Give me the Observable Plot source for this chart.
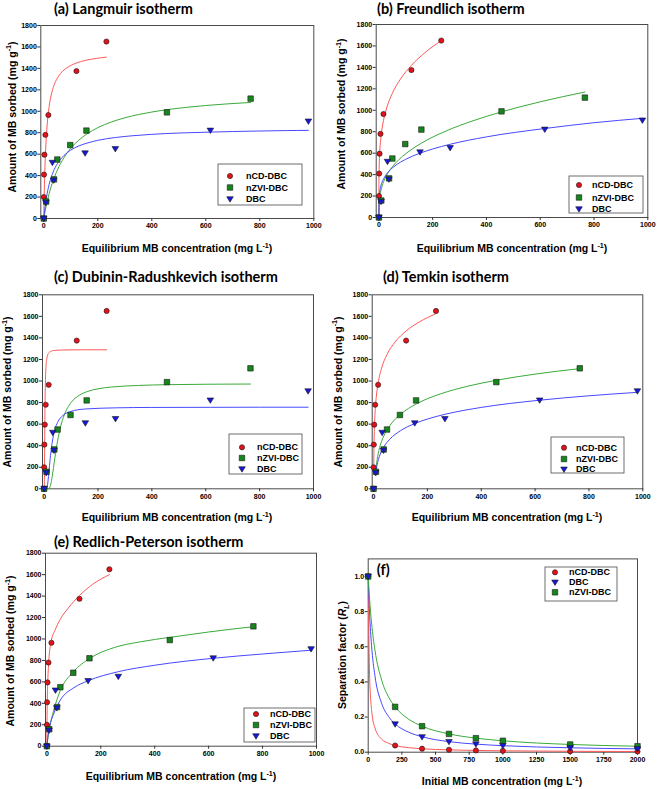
<!DOCTYPE html>
<html><head><meta charset="utf-8">
<script src="https://cdn.jsdelivr.net/npm/d3@7"></script>
<script src="https://cdn.jsdelivr.net/npm/@observablehq/plot@0.6"></script>
<style>
html,body{margin:0;padding:0;background:#fff;}
#root{position:relative;width:668px;height:789px;overflow:hidden;background:#fff;}
.panel{position:absolute;}
.panel svg{overflow:visible;}
</style></head><body><div id="root"></div>
<script>
// ---------- Experimental points (Ce, qe) ----------
const ceCD  = [0, 0.4, 1, 2.5, 6, 17, 121, 232];
const qeCD  = [0, 200, 410, 595, 780, 965, 1375, 1650];
const ceZVI = [0, 9, 38, 50, 98, 158, 456, 766];
const qeZVI = [0, 158, 365, 550, 685, 820, 990, 1118];
const ceDBC = [0, 8, 32, 37, 153, 265, 617, 980];
const qeDBC = [0, 148, 522, 357, 610, 650, 822, 907];

// ---------- Separation factor points ----------
const c0    = [0, 200, 400, 600, 800, 1000, 1500, 2000];
const rlCD  = [1, 0.038, 0.020, 0.014, 0.010, 0.008, 0.005, 0.004];
const rlDBC = [1, 0.160, 0.087, 0.060, 0.046, 0.037, 0.025, 0.019];
const rlZVI = [1, 0.258, 0.148, 0.104, 0.080, 0.065, 0.044, 0.034];

// ---------- Fitted curves ----------
// (a) Langmuir
const langX_CD  = [0, 0.5, 1, 2, 3, 5, 7, 10, 15, 20, 30, 40, 55, 70, 90, 110, 135, 160, 195, 232];
const langY_CD  = [0, 75, 143, 262, 362, 523, 647, 785, 942, 1047, 1178, 1256, 1328, 1374, 1413, 1439, 1462, 1478, 1493, 1505];
const langX_ZVI = [0, 5, 10, 20, 35, 50, 75, 100, 130, 160, 200, 250, 300, 350, 400, 456, 530, 600, 680, 766];
const langY_ZVI = [0, 68, 129, 232, 355, 450, 568, 655, 731, 789, 847, 900, 939, 969, 993, 1015, 1037, 1054, 1069, 1082];
const langX_DBC = [0, 5, 10, 20, 35, 50, 75, 100, 130, 160, 200, 265, 330, 400, 500, 617, 700, 800, 900, 980];
const langY_DBC = [0, 111, 196, 319, 435, 510, 588, 638, 677, 703, 729, 755, 772, 785, 797, 806, 811, 816, 820, 822];
// (b) Freundlich
const frX_CD  = [0, 0.1, 0.3, 0.6, 1, 2, 4, 7, 12, 17, 30, 50, 80, 121, 170, 232];
const frY_CD  = [0, 277, 357, 419, 471, 552, 648, 737, 834, 904, 1030, 1158, 1290, 1419, 1535, 1650];
const frX_ZVI = [0, 1, 3, 6, 10, 20, 35, 50, 75, 100, 160, 250, 350, 456, 600, 766];
const frY_ZVI = [0, 129, 186, 234, 277, 349, 420, 473, 541, 595, 696, 807, 902, 985, 1079, 1170];
const frX_DBC = [0, 1, 3, 6, 10, 20, 37, 60, 100, 153, 200, 265, 400, 617, 800, 980];
const frY_DBC = [0, 185, 239, 281, 317, 373, 431, 482, 543, 600, 639, 683, 752, 830, 884, 925];
// (c) Dubinin-Radushkevich
const drX_CD  = [0, 0.5, 1, 1.5, 2, 3, 4, 5, 7, 10, 14, 20, 35, 60, 100, 160, 232];
const drY_CD  = [0, 0, 41, 197, 396, 711, 901, 1016, 1135, 1208, 1247, 1268, 1283, 1287, 1289, 1290, 1290];
const drX_ZVI = [9, 15, 20, 25, 30, 35, 40, 50, 60, 75, 100, 130, 160, 200, 250, 350, 456, 600, 766];
const drY_ZVI = [0, 0, 8, 45, 114, 199, 288, 445, 565, 687, 800, 867, 902, 928, 944, 959, 966, 970, 972];
const drX_DBC = [5, 8, 10, 12, 15, 20, 25, 30, 40, 50, 70, 100, 150, 265, 400, 617, 800, 980];
const drY_DBC = [0, 0, 6, 26, 85, 216, 337, 430, 549, 616, 681, 718, 740, 751, 755, 756, 757, 757];
// (d) Temkin
const tkX_CD  = [0.8, 1, 2, 3, 5, 7, 10, 17, 30, 50, 80, 121, 170, 232];
const tkY_CD  = [226, 281, 452, 552, 678, 761, 849, 980, 1120, 1246, 1362, 1464, 1548, 1625];
const tkX_ZVI = [9, 15, 20, 30, 38, 50, 70, 97, 130, 160, 200, 250, 350, 456, 600, 766];
const tkY_ZVI = [190, 297, 357, 441, 490, 547, 617, 685, 746, 789, 836, 882, 952, 1007, 1064, 1115];
const tkX_DBC = [8, 12, 18, 25, 37, 60, 100, 153, 200, 265, 400, 617, 800, 980];
const tkY_DBC = [145, 208, 271, 322, 384, 459, 539, 605, 647, 691, 755, 822, 863, 895];
// (e) Redlich-Peterson
const rpX_CD  = [0, 0.3, 0.6, 1, 2, 3, 5, 7, 10, 17, 30, 50, 80, 121, 170, 232];
const rpY_CD  = [0, 150, 240, 330, 480, 570, 700, 790, 880, 990, 1080, 1185, 1290, 1405, 1510, 1600];
const rpX_ZVI = [0, 5, 10, 25, 50, 97, 160, 250, 350, 456, 600, 766];
const rpY_ZVI = [0, 95, 170, 330, 520, 690, 820, 920, 975, 1015, 1065, 1115];
const rpX_DBC = [0, 5, 10, 25, 50, 100, 153, 265, 400, 617, 800, 980];
const rpY_DBC = [0, 110, 180, 300, 430, 545, 610, 695, 755, 820, 860, 895];
// (f) separation factor curves
const sfX     = [0, 10, 25, 50, 100, 150, 200, 300, 400, 600, 800, 1000, 1500, 2000];
const sfY_CD  = [1, 0.444, 0.242, 0.138, 0.074, 0.051, 0.038, 0.026, 0.0196, 0.0132, 0.0099, 0.0079, 0.0053, 0.004];
const sfY_DBC = [1, 0.794, 0.606, 0.435, 0.278, 0.204, 0.161, 0.114, 0.088, 0.060, 0.046, 0.037, 0.025, 0.019];
const sfY_ZVI = [1, 0.874, 0.735, 0.581, 0.410, 0.316, 0.258, 0.188, 0.148, 0.104, 0.080, 0.065, 0.044, 0.034];

// ---------- Tick labels ----------
const qTicks  = [0, 200, 400, 600, 800, 1000, 1200, 1400, 1600, 1800];
const ceTicks = [0, 200, 400, 600, 800, 1000];
const c0Ticks = [0, 250, 500, 750, 1000, 1250, 1500, 1750, 2000];
const rlTicks = [0, 0.2, 0.4, 0.6, 0.8, 1.0];

// ---------- Style ----------
const triangleDown = {
  draw(ctx, size) {
    const r = Math.sqrt(size / Math.PI);
    const w = r * 1.1;
    ctx.moveTo(-w, -r * 0.75);
    ctx.lineTo(w, -r * 0.75);
    ctx.lineTo(0, r * 1.05);
    ctx.closePath();
  }
};
const STY = {
  "nCD-DBC":  {fill: "#e3121a", line: "#ff5858", symbol: d3.symbolCircle, r: 2.6},
  "nZVI-DBC": {fill: "#15861b", line: "#3aaa3a", symbol: d3.symbolSquare, r: 3.1},
  "DBC":      {fill: "#1616dd", line: "#4848ff", symbol: triangleDown,    r: 3.0}
};
const SANS = "'Liberation Sans', Arial, sans-serif";
const TITLEF = "Lato, 'Open Sans', sans-serif";

const pointsIso = [
  {name: "nCD-DBC", x: ceCD, y: qeCD},
  {name: "nZVI-DBC", x: ceZVI, y: qeZVI},
  {name: "DBC", x: ceDBC, y: qeDBC}
];

function label(s, x, y, rot, parts, size) {
  const t = s.append("text")
    .attr("transform", `translate(${x},${y}) rotate(${rot})`)
    .attr("text-anchor", "middle")
    .attr("font-family", SANS).attr("font-weight", "bold")
    .attr("font-size", size).attr("fill", "#000");
  let shift = 0;
  for (const p of parts) {
    const ts = t.append("tspan").text(p.t);
    if (p.sup) { ts.attr("font-size", size * 0.68).attr("dy", -size * 0.42 - shift); shift = -size * 0.42; }
    else if (p.sub) { ts.attr("font-size", size * 0.68).attr("dy", size * 0.25 - shift); shift = size * 0.25; }
    else { if (shift) ts.attr("dy", -shift); shift = 0; }
    if (p.it) ts.attr("font-style", "italic");
  }
}

function drawPanel(p) {
  const [L, R, T, B] = p.frame;
  const marks = [
    Plot.frame({stroke: "#4a4a4a", strokeWidth: 1}),
    Plot.axisX(p.xTicks, {tickSize: 3, tickPadding: 2, stroke: "#333", label: null, tickFormat: p.xFormat || (d => String(d))}),
    Plot.axisY(p.yTicks, {tickSize: 3, tickPadding: 1, stroke: "#333", label: null, tickFormat: p.yFormat || (d => String(d))})
  ];
  for (const f of p.fits) {
    marks.push(Plot.line(f.x, {x: f.x, y: f.y, stroke: STY[f.name].line, strokeWidth: 1, curve: "monotone-x"}));
  }
  for (const s of p.points) {
    const st = STY[s.name];
    marks.push(Plot.dot(s.x, {x: s.x, y: s.y, symbol: st.symbol, r: st.r, fill: st.fill, stroke: "#1a1a1a", strokeWidth: 0.6}));
  }
  const svg = Plot.plot({
    width: p.width, height: p.height,
    marginLeft: L, marginRight: p.width - R, marginTop: T, marginBottom: p.height - B,
    x: {domain: p.xDomain}, y: {domain: p.yDomain},
    style: {fontFamily: SANS, fontSize: "7px", fontWeight: "bold", color: "#000", background: "transparent", overflow: "visible"},
    marks
  });
  const div = document.createElement("div");
  div.className = "panel";
  div.style.left = p.left + "px"; div.style.top = p.top + "px";
  div.appendChild(svg);
  document.getElementById("root").appendChild(div);
  const s = d3.select(svg);
  // title
  s.append("text").attr("x", p.title.x).attr("y", p.title.y)
    .attr("text-anchor", "start")
    .attr("font-family", TITLEF).attr("font-weight", "bold").attr("font-size", 14.5)
    .attr("fill", "#000").text(p.title.t);
  // axis labels
  label(s, p.xLab.x, p.xLab.y, 0, p.xLab.parts, 10.5);
  label(s, p.yLab.x, p.yLab.y, -90, p.yLab.parts, 10.5);
  // legend
  const lg = p.legend;
  s.append("rect").attr("x", lg.box[0]).attr("y", lg.box[1])
    .attr("width", lg.box[2] - lg.box[0]).attr("height", lg.box[3] - lg.box[1])
    .attr("fill", "#fff").attr("stroke", "#4a4a4a").attr("stroke-width", 0.8);
  lg.names.forEach((n, i) => {
    const st = STY[n];
    const yy = lg.rows[i];
    s.append("path").attr("d", d3.symbol(st.symbol, st.r * st.r * Math.PI)())
      .attr("transform", `translate(${lg.mx},${yy})`)
      .attr("fill", st.fill).attr("stroke", "#1a1a1a").attr("stroke-width", 0.6);
    s.append("text").attr("x", lg.tx).attr("y", yy).attr("dy", "0.35em")
      .attr("text-anchor", "start")
      .attr("font-family", SANS).attr("font-weight", "bold").attr("font-size", 9)
      .attr("fill", "#000").text(n);
  });
}

const xLabParts = [{t: "Equilibrium MB concentration (mg L"}, {t: "-1", sup: true}, {t: ")"}];
const yLabParts = [{t: "Amount of MB sorbed (mg g"}, {t: "-1", sup: true}, {t: ")"}];
const isoNames = ["nCD-DBC", "nZVI-DBC", "DBC"];

drawPanel({
  left: 0, top: 0, width: 334, height: 260, frame: [40.3, 313.3, 25, 218],
  xDomain: [-11, 1000], yDomain: [0, 1800], xTicks: ceTicks, yTicks: qTicks,
  fits: [
    {name: "nCD-DBC", x: langX_CD, y: langY_CD},
    {name: "nZVI-DBC", x: langX_ZVI, y: langY_ZVI},
    {name: "DBC", x: langX_DBC, y: langY_DBC}
  ],
  points: pointsIso,
  title: {t: "(a) Langmuir isotherm", x: 54, y: 14},
  xLab: {x: 177, y: 252, parts: xLabParts},
  yLab: {x: 15.5, y: 117, parts: yLabParts},
  legend: {box: [218, 164, 302, 205], mx: 230, tx: 246, rows: [176, 187.5, 199], names: isoNames}
});

drawPanel({
  left: 334, top: 0, width: 334, height: 260, frame: [41.7, 313.3, 24, 217],
  xDomain: [-10, 1000], yDomain: [0, 1800], xTicks: ceTicks, yTicks: qTicks,
  fits: [
    {name: "nCD-DBC", x: frX_CD, y: frY_CD},
    {name: "nZVI-DBC", x: frX_ZVI, y: frY_ZVI},
    {name: "DBC", x: frX_DBC, y: frY_DBC}
  ],
  points: pointsIso,
  title: {t: "(b) Freundlich isotherm", x: 43, y: 13.5},
  xLab: {x: 178, y: 252, parts: xLabParts},
  yLab: {x: 11, y: 114, parts: yLabParts},
  legend: {box: [235, 176, 309, 213], mx: 245, tx: 258, rows: [185, 197.5, 209], names: isoNames}
});

drawPanel({
  left: 0, top: 260, width: 334, height: 268, frame: [42, 313, 34.3, 228.3],
  xDomain: [-6, 1000], yDomain: [0, 1800], xTicks: ceTicks, yTicks: qTicks,
  fits: [
    {name: "nCD-DBC", x: drX_CD, y: drY_CD},
    {name: "nZVI-DBC", x: drX_ZVI, y: drY_ZVI},
    {name: "DBC", x: drX_DBC, y: drY_DBC}
  ],
  points: pointsIso,
  title: {t: "(c) Dubinin-Radushkevich isotherm", x: 54, y: 22},
  xLab: {x: 177, y: 261, parts: xLabParts},
  yLab: {x: 11, y: 132, parts: yLabParts},
  legend: {box: [229, 174, 302, 214], mx: 242, tx: 257, rows: [187.3, 198, 209], names: isoNames}
});

drawPanel({
  left: 334, top: 260, width: 334, height: 268, frame: [37.7, 308.3, 34.3, 228.3],
  xDomain: [-5, 1000], yDomain: [0, 1800], xTicks: ceTicks, yTicks: qTicks,
  fits: [
    {name: "nCD-DBC", x: tkX_CD, y: tkY_CD},
    {name: "nZVI-DBC", x: tkX_ZVI, y: tkY_ZVI},
    {name: "DBC", x: tkX_DBC, y: tkY_DBC}
  ],
  points: pointsIso,
  title: {t: "(d) Temkin isotherm", x: 49, y: 22},
  xLab: {x: 173, y: 261, parts: xLabParts},
  yLab: {x: 7.5, y: 132, parts: yLabParts},
  legend: {box: [217, 177, 290, 213], mx: 230, tx: 242, rows: [187.7, 199, 209.3], names: isoNames}
});

drawPanel({
  left: 0, top: 520, width: 334, height: 269, frame: [45, 316, 32.7, 225.7],
  xDomain: [-5, 1000], yDomain: [0, 1800], xTicks: ceTicks, yTicks: qTicks,
  fits: [
    {name: "nCD-DBC", x: rpX_CD, y: rpY_CD},
    {name: "nZVI-DBC", x: rpX_ZVI, y: rpY_ZVI},
    {name: "DBC", x: rpX_DBC, y: rpY_DBC}
  ],
  points: pointsIso,
  title: {t: "(e) Redlich-Peterson isotherm", x: 54, y: 26.5},
  xLab: {x: 181, y: 260, parts: xLabParts},
  yLab: {x: 14, y: 131, parts: yLabParts},
  legend: {box: [244, 188, 315, 222], mx: 256, tx: 270, rows: [194, 205, 216], names: isoNames}
});

drawPanel({
  left: 334, top: 520, width: 334, height: 269, frame: [33.7, 303, 38.4, 231.7],
  xDomain: [0, 2000], yDomain: [0, 1.1], xTicks: c0Ticks, yTicks: rlTicks,
  yFormat: d3.format(".1f"),
  fits: [
    {name: "nCD-DBC", x: sfX, y: sfY_CD},
    {name: "DBC", x: sfX, y: sfY_DBC},
    {name: "nZVI-DBC", x: sfX, y: sfY_ZVI}
  ],
  points: [
    {name: "nCD-DBC", x: c0, y: rlCD},
    {name: "nZVI-DBC", x: c0, y: rlZVI},
    {name: "DBC", x: c0, y: rlDBC}
  ],
  title: {t: "(f)", x: 42.7, y: 55},
  xLab: {x: 168, y: 265, parts: [{t: "Initial MB concentration (mg L"}, {t: "-1", sup: true}, {t: ")"}]},
  yLab: {x: 12, y: 135, parts: [{t: "Separation factor ("}, {t: "R", it: true}, {t: "L", sub: true, it: true}, {t: ")"}]},
  legend: {box: [211, 47, 283, 81], mx: 221, tx: 235, rows: [52.3, 62.3, 72.3], names: ["nCD-DBC", "DBC", "nZVI-DBC"]}
});
</script></body></html>
